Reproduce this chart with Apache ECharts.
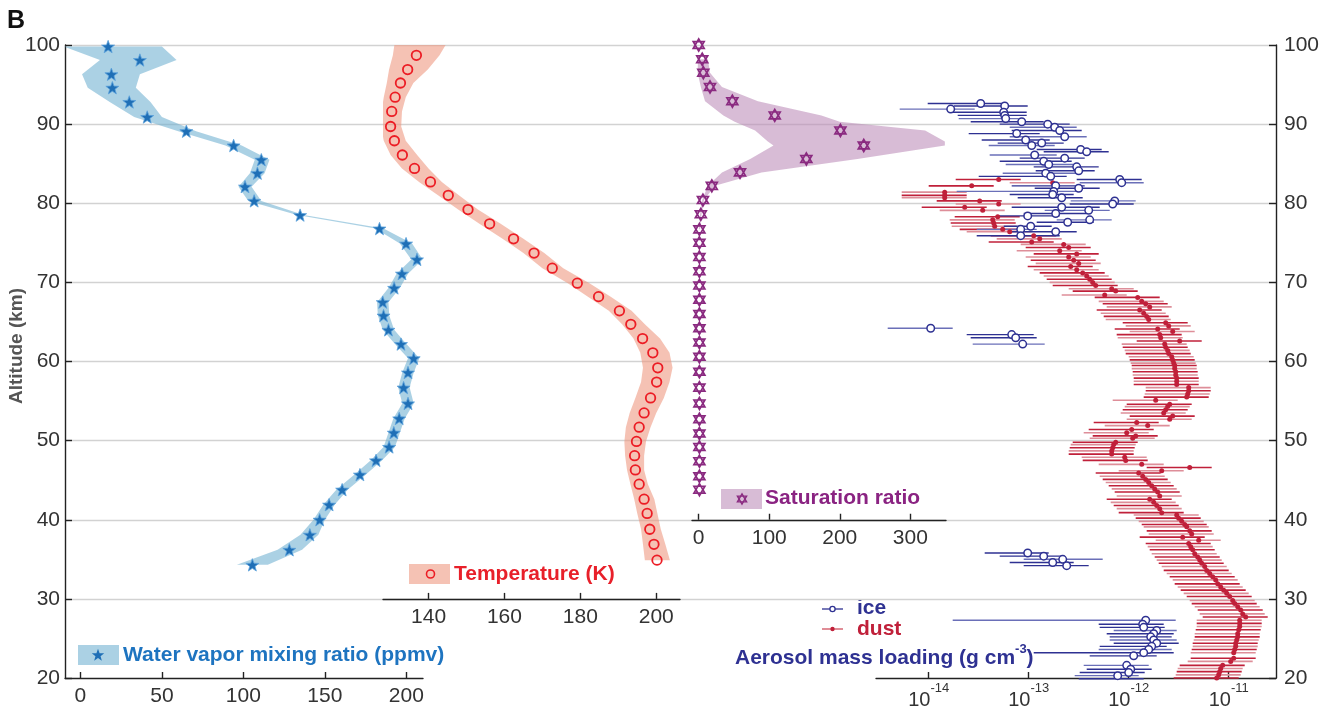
<!DOCTYPE html>
<html><head><meta charset="utf-8">
<script src="https://cdn.jsdelivr.net/npm/echarts@6/dist/echarts.min.js"></script>
<style>html,body{margin:0;padding:0;background:#fff}#c{width:1324px;height:712px}</style>
</head><body><div id="c"></div>
<script>
// ---------- DATA ----------
const waterTicks = [0, 50, 100, 150, 200];
const tempTicks = [140, 160, 180, 200];
const satTicks = [0, 100, 200, 300];
const aerosolTicks = [-14, -13, -12, -11]; // log10 (g cm^-3)

// Water vapor mixing ratio (ppmv)
const waterAlt = [99.8, 98.1, 96.3, 94.6, 92.8, 90.9, 89.1, 87.3, 85.5, 83.8, 82.1, 80.3, 78.5, 76.8, 74.9, 72.9, 71.1, 69.3, 67.5, 65.8, 64.0, 62.2, 60.4, 58.6, 56.7, 54.7, 52.8, 51.0, 49.2, 47.5, 45.7, 43.8, 41.9, 40.0, 38.1, 36.2, 34.3];
const waterVal = [17, 36.5, 19, 19.6, 30, 41, 65, 94, 111, 108.6, 101, 106.6, 134.8, 183.5, 199.8, 206.5, 197.3, 192.5, 185.5, 186, 189, 196.7, 204.5, 201, 198.3, 201, 195.6, 192.3, 189.4, 181.4, 171.5, 160.6, 152.6, 146.8, 140.8, 128.2, 105.5];
const waterLo = [-10, 12, 1, 4.5, 18, 33, 60, 89, 107, 104, 97, 103, 133, 181, 196, 203, 194, 189, 182, 182.5, 185.5, 193, 201, 197.5, 195, 197.5, 192, 189, 186, 178, 168, 157, 149, 143, 135, 121, 96];
const waterHi = [50, 59, 36.5, 34, 43, 50, 71, 99, 116, 113, 105, 111, 137, 186, 203.5, 210, 201, 196, 189, 189.5, 192.5, 200, 208, 204.5, 202, 204.5, 199, 196, 193, 185, 175, 164, 156, 150, 146, 136, 115];

// Temperature (K)
const tempAlt = [98.7, 96.9, 95.2, 93.4, 91.6, 89.7, 87.9, 86.1, 84.4, 82.7, 81.0, 79.2, 77.4, 75.5, 73.7, 71.8, 69.9, 68.2, 66.4, 64.7, 62.9, 61.1, 59.2, 57.4, 55.4, 53.5, 51.7, 49.9, 48.1, 46.3, 44.5, 42.6, 40.8, 38.8, 36.9, 34.9];
const tempVal = [136.8, 134.5, 132.6, 131.2, 130.3, 130.0, 131.0, 133.1, 136.3, 140.5, 145.2, 150.4, 156.1, 162.4, 167.8, 172.6, 179.2, 184.8, 190.3, 193.3, 196.4, 199.1, 200.4, 200.1, 198.5, 196.8, 195.5, 194.8, 194.3, 194.5, 195.5, 196.8, 197.6, 198.3, 199.4, 200.2];
const tempBandAlt = [100, 98.7, 96.9, 95.2, 93.4, 91.6, 89.7, 87.9, 86.1, 84.4, 82.7, 81.0, 79.2, 77.4, 75.5, 73.7, 71.8, 69.9, 68.2, 66.4, 64.7, 62.9, 61.1, 59.2, 57.4, 55.4, 53.5, 51.7, 49.9, 48.1, 46.3, 44.5, 42.6, 40.8, 38.8, 36.9, 34.9];
const tempLo = [131, 130.6, 129.6, 129, 128.2, 127.6, 127.5, 128.2, 130, 133, 137.5, 142.5, 147.8, 153.4, 159.5, 165, 170, 176.7, 182, 187.5, 191, 194, 195.8, 196.5, 196, 194.5, 193, 192, 191.6, 191.8, 192.3, 193.2, 194.2, 195, 196, 196.5, 197];
const tempHi = [144.5, 142.9, 139.8, 136, 134, 133, 132.8, 134, 137, 140, 143.5, 148, 153, 159, 165, 170.5, 175.5, 182.4, 188, 193.5, 197, 201, 203.5, 204.3, 203.5, 202, 200, 198.5, 197.3, 196.8, 196.8, 197.8, 199.5, 200.3, 201.2, 202.4, 203.6];

// Saturation ratio
const satAlt = [100, 98.2, 96.5, 94.7, 92.9, 91.1, 89.2, 87.3, 85.6, 83.9, 82.2, 80.4, 78.6, 76.7, 75.0, 73.2, 71.4, 69.6, 67.8, 66.0, 64.2, 62.4, 60.6, 58.7, 56.7, 54.7, 52.7, 50.9, 49.2, 47.4, 45.5, 43.8];
const satVal = [0, 5, 6.5, 16, 47.7, 107.8, 200.9, 234, 152.6, 58.6, 18.6, 6, 3, 1, 1, 1, 1, 1, 1, 1, 1, 1, 1, 1, 1, 1, 1, 1, 1, 1, 1, 1];
const satBandAlt = [98.2, 96.5, 94.7, 92.9, 91.1, 90.3, 89.2, 87.8, 87.3, 85.6, 83.9, 82.2, 80.4, 78.6, 76.7];
const satLo = [-1, -1.5, 3, 9, 35, 51, 80, 98, 106, 73, 33, 13, 5, 2, 0.5];
const satHi = [13, 16, 33, 84, 174, 200, 321, 349, 349, 225, 89, 23, 7.5, 4, 2];

// Aerosol mass loading, log10(g cm^-3)
const iceAlt = [92.6, 92.3, 91.9, 91.5, 91.1, 90.7, 90.3, 90.0, 89.6, 89.2, 88.8, 88.4, 88.0, 87.6, 87.3, 86.8, 86.5, 86.1, 85.7, 85.3, 84.9, 84.6, 84.1, 83.8, 83.4, 83.0, 82.6, 82.2, 81.9, 81.5, 81.1, 80.7, 80.3, 79.9, 79.5, 79.1, 78.7, 78.4, 77.9, 77.6, 77.1, 76.7, 76.4, 75.9, 64.2, 63.4, 63.0, 62.2, 35.8, 35.4, 35.0, 34.6, 34.2, 27.3, 26.8, 26.4, 26.0, 25.6, 25.2, 24.8, 24.4, 24.0, 23.6, 23.2, 22.8, 21.6, 21.1, 20.7, 20.3, 19.9];
const iceLog = [-13.48, -13.24, -13.78, -13.25, -13.24, -13.23, -13.07, -12.81, -12.74, -12.69, -13.12, -12.64, -13.03, -12.87, -12.97, -12.48, -12.42, -12.94, -12.64, -12.85, -12.80, -12.52, -12.50, -12.83, -12.78, -12.09, -12.07, -12.73, -12.50, -12.75, -12.76, -12.67, -12.14, -12.16, -12.67, -12.40, -12.73, -13.01, -12.39, -12.61, -12.98, -13.08, -12.73, -13.08, -13.98, -13.17, -13.13, -13.06, -13.01, -12.85, -12.66, -12.76, -12.62, -11.83, -11.86, -11.85, -11.72, -11.75, -11.78, -11.75, -11.72, -11.77, -11.80, -11.85, -11.95, -12.02, -11.98, -12.00, -12.11, -12.09];
const iceLogLo = [-14.01, -13.75, -14.29, -13.77, -13.71, -13.70, -13.58, -13.29, -13.19, -13.17, -13.60, -13.19, -13.47, -13.31, -13.40, -12.92, -12.85, -13.39, -13.09, -13.29, -13.23, -12.95, -12.93, -13.26, -13.50, -12.52, -12.49, -13.17, -12.94, -13.72, -13.19, -13.11, -12.58, -12.59, -13.17, -12.84, -13.05, -13.30, -12.72, -12.92, -13.25, -13.52, -13.17, -13.52, -14.41, -13.62, -13.58, -13.56, -13.44, -13.29, -13.05, -13.19, -13.05, -13.76, -12.30, -12.29, -12.15, -12.22, -12.19, -12.19, -12.15, -12.29, -12.30, -12.95, -12.39, -12.45, -12.42, -12.49, -12.54, -12.50];
const iceLogHi = [-13.24, -13.01, -13.54, -13.02, -13.02, -13.10, -12.85, -12.59, -12.52, -12.47, -12.89, -12.42, -12.79, -12.65, -12.74, -12.27, -12.20, -12.72, -12.44, -12.57, -12.49, -12.30, -12.34, -12.52, -12.62, -11.87, -11.85, -12.44, -12.29, -12.47, -12.55, -12.46, -11.93, -11.95, -12.29, -12.19, -12.42, -12.69, -12.17, -12.35, -12.77, -12.92, -12.52, -12.69, -13.76, -12.95, -12.92, -12.84, -12.80, -12.65, -12.26, -12.55, -12.40, -11.53, -11.65, -11.64, -11.52, -11.55, -11.57, -11.52, -11.50, -11.62, -11.57, -11.55, -11.72, -11.80, -11.77, -11.84, -11.90, -11.85];

const dustAlt = [83.0, 82.6, 82.2, 81.4, 81.0, 80.7, 80.3, 79.9, 79.5, 79.1, 78.3, 77.9, 77.5, 77.1, 76.7, 76.4, 75.9, 75.5, 75.1, 74.8, 74.4, 74.0, 73.6, 73.2, 72.8, 72.4, 72.0, 71.6, 71.2, 70.8, 70.4, 70.0, 69.6, 69.2, 68.9, 68.4, 68.1, 67.6, 67.3, 66.9, 66.5, 66.1, 65.7, 65.3, 64.9, 64.5, 64.1, 63.8, 63.4, 63.0, 62.6, 62.2, 61.8, 61.4, 61.0, 60.6, 60.2, 59.8, 59.5, 59.1, 58.7, 58.3, 57.9, 57.5, 57.1, 56.7, 56.3, 55.9, 55.5, 55.1, 54.6, 54.3, 53.9, 53.5, 53.1, 52.7, 52.3, 51.9, 51.4, 51.0, 50.6, 50.3, 49.8, 49.5, 49.1, 48.7, 48.3, 47.9, 47.5, 47.0, 46.6, 46.2, 45.9, 45.5, 45.1, 44.7, 44.3, 43.9, 43.5, 43.0, 42.6, 42.2, 41.8, 41.4, 40.9, 40.6, 40.2, 39.8, 39.4, 39.1, 38.6, 38.2, 37.8, 37.4, 37.0, 36.6, 36.2, 35.7, 35.3, 34.9, 34.5, 34.1, 33.6, 33.2, 32.8, 32.4, 31.9, 31.5, 31.1, 30.7, 30.3, 29.8, 29.4, 29.0, 28.6, 28.1, 27.7, 27.3, 26.9, 26.5, 26.1, 25.6, 25.2, 24.8, 24.4, 24.0, 23.6, 23.2, 22.5, 22.1, 21.6, 21.2, 20.8, 20.4, 20.0];
const dustLog = [-13.30, -12.76, -13.57, -13.84, -13.84, -13.84, -13.49, -13.30, -13.64, -13.46, -13.31, -13.36, -13.35, -13.34, -13.26, -13.19, -12.95, -12.89, -12.97, -12.65, -12.60, -12.69, -12.52, -12.60, -12.55, -12.50, -12.58, -12.52, -12.46, -12.42, -12.39, -12.36, -12.33, -12.17, -12.13, -12.24, -11.91, -11.87, -11.83, -11.79, -11.89, -11.85, -11.82, -11.80, -11.63, -11.60, -11.71, -11.56, -11.69, -11.68, -11.49, -11.64, -11.63, -11.61, -11.60, -11.57, -11.56, -11.55, -11.54, -11.54, -11.53, -11.53, -11.52, -11.52, -11.52, -11.40, -11.40, -11.41, -11.42, -11.73, -11.59, -11.61, -11.63, -11.65, -11.56, -11.59, -11.92, -11.81, -11.97, -12.02, -11.93, -11.96, -12.13, -12.15, -12.16, -12.17, -12.17, -12.04, -12.03, -11.87, -11.39, -11.67, -11.90, -11.86, -11.83, -11.80, -11.77, -11.74, -11.71, -11.69, -11.79, -11.75, -11.72, -11.69, -11.67, -11.52, -11.50, -11.47, -11.44, -11.42, -11.39, -11.37, -11.46, -11.30, -11.40, -11.38, -11.36, -11.34, -11.31, -11.29, -11.27, -11.24, -11.22, -11.19, -11.16, -11.13, -11.11, -11.08, -11.05, -11.02, -10.99, -10.96, -10.94, -10.91, -10.88, -10.86, -10.83, -10.89, -10.89, -10.89, -10.90, -10.91, -10.91, -10.92, -10.93, -10.93, -10.94, -10.95, -10.95, -10.98, -11.06, -11.08, -11.09, -11.10, -11.12];
// dust uncertainty (dex below / above the value)
const dustErrLoDex = 0.43;
const dustErrHiDex = 0.22;

// ---------- STYLE ----------
const FONT = "'Liberation Sans', Arial, Helvetica, sans-serif";
const AXIS_COLOR = '#222';
const LABEL_COLOR = '#333';
const STAR = 'path://M12,0.5 L14.9,8.6 L23.5,8.9 L16.7,14.2 L19.1,22.5 L12,17.6 L4.9,22.5 L7.3,14.2 L0.5,8.9 L9.1,8.6 Z';
const HEXAGRAM = 'path://M12,1 L22,18.3 L2,18.3 Z M12,23 L2,5.7 L22,5.7 Z';
const STAR_PTS = [[12,0.5],[14.9,8.6],[23.5,8.9],[16.7,14.2],[19.1,22.5],[12,17.6],[4.9,22.5],[7.3,14.2],[0.5,8.9],[9.1,8.6]];
const TRI_UP = [[12,1],[22,18.3],[2,18.3]];
const TRI_DOWN = [[12,23],[2,5.7],[22,5.7]];
const C_WATER = '#1f6fb6', C_WATER_BAND = 'rgba(110,175,208,0.58)';
const C_TEMP = '#ec1c24', C_TEMP_BAND = 'rgba(238,150,125,0.58)';
const C_SAT = '#8a2a80', C_SAT_BAND = 'rgba(188,140,184,0.58)';
const C_ICE = '#2e3192', C_ICE_LIGHT = '#6a6fb8';
const C_DUST = '#c0203a', C_DUST_LIGHT = '#de8e99';

function iconPts(pts, cx, cy, size) {
  return pts.map(p => [cx + (p[0] - 12) * size / 24, cy + (p[1] - 12) * size / 24]);
}

const chart = echarts.init(document.getElementById('c'), null, {renderer: 'canvas'});

function bandSeries(xi, yi, alts, lo, hi, color) {
  return {
    type: 'custom', xAxisIndex: xi, yAxisIndex: yi, clip: true, silent: true, z: 1,
    data: [[lo[0], alts[0]]],
    renderItem: function (params, api) {
      const pts = [];
      for (let i = 0; i < alts.length; i++) pts.push(api.coord([lo[i], alts[i]]));
      for (let i = alts.length - 1; i >= 0; i--) pts.push(api.coord([hi[i], alts[i]]));
      return {type: 'polygon', shape: {points: pts}, style: {fill: color}};
    }
  };
}

function errorBarSeries(xi, yi, data, colorFn, width, z) {
  return {
    type: 'custom', xAxisIndex: xi, yAxisIndex: yi, silent: true, z: z,
    encode: {x: [0, 1], y: 2},
    data: data,
    renderItem: function (params, api) {
      const a = api.coord([api.value(0), api.value(2)]);
      const b = api.coord([api.value(1), api.value(2)]);
      return {type: 'line', shape: {x1: a[0], y1: a[1], x2: b[0], y2: b[1]},
        style: {stroke: colorFn(params.dataIndex), lineWidth: width}};
    }
  };
}

function bottomAxis(gi, min, max, ticks, extraLabel) {
  const lbl = Object.assign({customValues: ticks, fontSize: 21, color: LABEL_COLOR, margin: 8, fontFamily: FONT}, extraLabel || {});
  return {
    gridIndex: gi, type: 'value', min: min, max: max, position: 'bottom',
    axisLine: {show: true, onZero: false, lineStyle: {color: AXIS_COLOR, width: 1.4}},
    axisTick: {show: true, inside: true, length: 6, customValues: ticks, lineStyle: {color: AXIS_COLOR, width: 1.4}},
    axisLabel: lbl,
    splitLine: {show: false}
  };
}
function hiddenY(gi, min) {
  return {gridIndex: gi, type: 'value', min: min, max: 100, show: false, splitLine: {show: false}};
}

const option = {
  animation: false,
  backgroundColor: '#fff',
  textStyle: {fontFamily: FONT},
  grid: [
    {left: 65, right: 48, top: 45, bottom: 34},
    {left: 65, width: 358, top: 45, bottom: 34},
    {left: 383, width: 297, top: 45, bottom: 113.1},
    {left: 692, width: 254, top: 45, bottom: 192.25},
    {left: 876, width: 400, top: 45, bottom: 34}
  ],
  xAxis: [
    {gridIndex: 0, type: 'value', min: 0, max: 1, show: false},
    bottomAxis(1, -9.45, 210.2, waterTicks),
    bottomAxis(2, 128, 206.26, tempTicks),
    bottomAxis(3, -9.5, 350.6, satTicks),
    bottomAxis(4, -14.527, -10.527, aerosolTicks, {
      margin: 4,
      formatter: function (v) { return '{b|10}{s|-' + Math.abs(Math.round(v)) + '}'; },
      rich: {
        b: {fontSize: 20, color: LABEL_COLOR, fontFamily: FONT, lineHeight: 28, verticalAlign: 'bottom'},
        s: {fontSize: 13, color: LABEL_COLOR, fontFamily: FONT, lineHeight: 28, verticalAlign: 'top'}
      }
    })
  ],
  yAxis: [
    {gridIndex: 0, type: 'value', min: 20, max: 100, interval: 10, position: 'left',
      axisLine: {show: true, lineStyle: {color: AXIS_COLOR, width: 1.4}},
      axisTick: {show: true, inside: true, length: 7, lineStyle: {color: AXIS_COLOR, width: 1.4}},
      axisLabel: {fontSize: 21, color: LABEL_COLOR, margin: 5, fontFamily: FONT},
      splitLine: {show: true, showMinLine: false, lineStyle: {color: '#d2d2d2', width: 1.3}}},
    {gridIndex: 0, type: 'value', min: 20, max: 100, interval: 10, position: 'right',
      axisLine: {show: true, lineStyle: {color: AXIS_COLOR, width: 1.4}},
      axisTick: {show: true, inside: true, length: 7, lineStyle: {color: AXIS_COLOR, width: 1.4}},
      axisLabel: {fontSize: 21, color: LABEL_COLOR, margin: 8, fontFamily: FONT},
      splitLine: {show: false}},
    hiddenY(1, 20), hiddenY(2, 30), hiddenY(3, 40), hiddenY(4, 20)
  ],
  series: [
    bandSeries(1, 2, waterAlt, waterLo, waterHi, C_WATER_BAND),
    bandSeries(2, 3, tempBandAlt, tempLo, tempHi, C_TEMP_BAND),
    bandSeries(3, 4, satBandAlt, satLo, satHi, C_SAT_BAND),
    {type: 'scatter', xAxisIndex: 1, yAxisIndex: 2, z: 5, symbol: STAR, symbolSize: 13, symbolKeepAspect: true,
      itemStyle: {color: C_WATER, borderColor: '#5ea3dc', borderWidth: 0.8, opacity: 1},
      data: waterAlt.map((a, i) => [waterVal[i], a])},
    {type: 'scatter', xAxisIndex: 2, yAxisIndex: 3, z: 5, symbol: 'circle', symbolSize: 9.5,
      itemStyle: {color: 'rgba(0,0,0,0)', borderColor: C_TEMP, borderWidth: 1.8, opacity: 1},
      data: tempAlt.map((a, i) => [tempVal[i], a])},
    {type: 'scatter', xAxisIndex: 3, yAxisIndex: 4, z: 5, symbol: HEXAGRAM, symbolSize: 12, symbolKeepAspect: true,
      itemStyle: {color: 'rgba(0,0,0,0)', borderColor: C_SAT, borderWidth: 1.7, opacity: 1},
      data: satAlt.map((a, i) => [satVal[i], a])},
    errorBarSeries(4, 5, dustAlt.map((a, i) => [dustLog[i] - dustErrLoDex, dustLog[i] + dustErrHiDex, a]),
      i => (i % 2 ? C_DUST_LIGHT : C_DUST), 1.6, 2),
    errorBarSeries(4, 5, iceAlt.map((a, i) => [iceLogLo[i], iceLogHi[i], a]),
      i => (i % 3 === 2 ? C_ICE_LIGHT : C_ICE), 1.4, 3),
    {type: 'scatter', xAxisIndex: 4, yAxisIndex: 5, z: 6, symbol: 'circle', symbolSize: 5,
      itemStyle: {color: C_DUST, opacity: 1},
      data: dustAlt.map((a, i) => [dustLog[i], a])},
    {type: 'scatter', xAxisIndex: 4, yAxisIndex: 5, z: 7, symbol: 'circle', symbolSize: 7.5,
      itemStyle: {color: '#fff', borderColor: C_ICE, borderWidth: 1.5, opacity: 1},
      data: iceAlt.map((a, i) => [iceLog[i], a])}
  ],
  graphic: [
    {type: 'text', x: 7, y: 9, style: {text: 'B', fontSize: 25, fontWeight: 'bold', fontFamily: FONT, fill: '#111'}},
    {type: 'text', x: 17, y: 346, rotation: Math.PI / 2,
      style: {text: 'Altitude (km)', fontSize: 19, fontWeight: 'bold', fontFamily: FONT, fill: '#555', textAlign: 'center', textVerticalAlign: 'middle'}},
    // water vapor legend
    {type: 'rect', shape: {x: 78, y: 645, width: 41, height: 20}, style: {fill: C_WATER_BAND}},
    {type: 'polygon', shape: {points: iconPts(STAR_PTS, 98, 655, 13)}, style: {fill: C_WATER}},
    {type: 'text', x: 123, y: 655, style: {text: 'Water vapor mixing ratio (ppmv)', fontSize: 21, fontWeight: 'bold', fontFamily: FONT, fill: '#1e74c0', textVerticalAlign: 'middle'}},
    // temperature legend
    {type: 'rect', shape: {x: 409, y: 564, width: 41, height: 20}, style: {fill: C_TEMP_BAND}},
    {type: 'circle', shape: {cx: 430.5, cy: 574, r: 4}, style: {fill: 'none', stroke: C_TEMP, lineWidth: 1.6}},
    {type: 'text', x: 454, y: 574, style: {text: 'Temperature (K)', fontSize: 21, fontWeight: 'bold', fontFamily: FONT, fill: '#e8202a', textVerticalAlign: 'middle'}},
    // saturation legend
    {type: 'rect', shape: {x: 721, y: 489, width: 41, height: 20}, style: {fill: C_SAT_BAND}},
    {type: 'polygon', shape: {points: iconPts(TRI_UP, 742, 499, 11)}, style: {fill: 'none', stroke: C_SAT, lineWidth: 1.4}},
    {type: 'polygon', shape: {points: iconPts(TRI_DOWN, 742, 499, 11)}, style: {fill: 'none', stroke: C_SAT, lineWidth: 1.4}},
    {type: 'text', x: 765, y: 498, style: {text: 'Saturation ratio', fontSize: 21, fontWeight: 'bold', fontFamily: FONT, fill: '#8a2382', textVerticalAlign: 'middle'}},
    // ice / dust legend
    {type: 'line', shape: {x1: 822, y1: 609, x2: 843, y2: 609}, style: {stroke: C_ICE, lineWidth: 1.3}},
    {type: 'circle', shape: {cx: 832.5, cy: 609, r: 2.6}, style: {fill: '#fff', stroke: C_ICE, lineWidth: 1.3}},
    {type: 'text', x: 857, y: 608, style: {text: 'ice', fontSize: 21, fontWeight: 'bold', fontFamily: FONT, fill: C_ICE, textVerticalAlign: 'middle'}},
    {type: 'line', shape: {x1: 822, y1: 629, x2: 843, y2: 629}, style: {stroke: '#d0505f', lineWidth: 1.3}},
    {type: 'circle', shape: {cx: 832.5, cy: 629, r: 2.2}, style: {fill: C_DUST}},
    {type: 'text', x: 857, y: 629, style: {text: 'dust', fontSize: 21, fontWeight: 'bold', fontFamily: FONT, fill: C_DUST, textVerticalAlign: 'middle'}},
    {type: 'text', x: 735, y: 656, z: 20, style: {
      text: '{m|Aerosol mass loading (g cm}{s|-3}{m|)}',
      textVerticalAlign: 'middle',
      rich: {
        m: {fontSize: 21, fontWeight: 'bold', fontFamily: FONT, fill: C_ICE, lineHeight: 26, verticalAlign: 'bottom'},
        s: {fontSize: 13, fontWeight: 'bold', fontFamily: FONT, fill: C_ICE, lineHeight: 26, verticalAlign: 'top'}
      }}}
  ]
};
chart.setOption(option);
</script>
</body></html>
